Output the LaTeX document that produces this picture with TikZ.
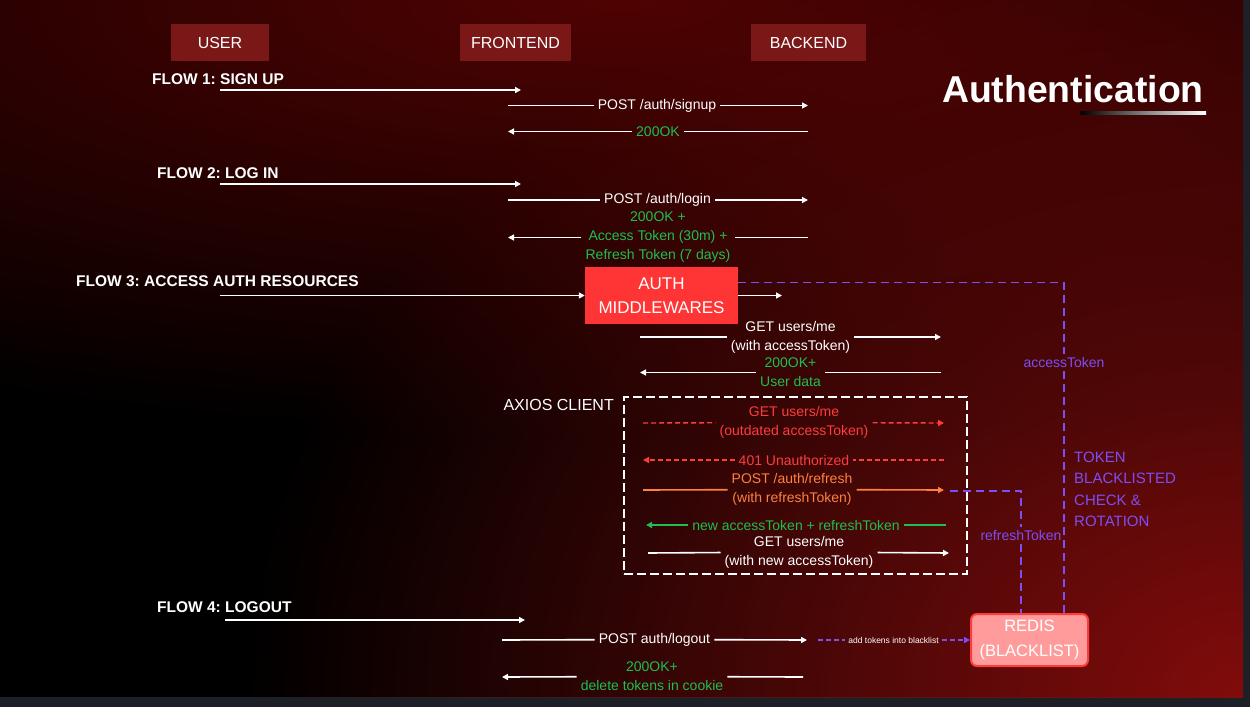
\documentclass[tikz,border=0pt]{standalone}
\usepackage{fontspec}
\setmainfont{Liberation Sans}
\frenchspacing
\usepackage{tikz}
\usetikzlibrary{arrows.meta}
\usetikzlibrary{fadings}
\usetikzlibrary{positioning, calc}
\definecolor{hdred}{RGB}{122,24,24}
\definecolor{mwred}{RGB}{255,52,52}
\definecolor{okgreen}{RGB}{30,190,80}
\definecolor{errred}{RGB}{255,60,60}
\definecolor{reforange}{RGB}{255,128,64}
\definecolor{tkpurple}{RGB}{124,78,246}
\definecolor{redisfill}{RGB}{255,155,155}
\definecolor{edgegray}{RGB}{29,33,39}
\definecolor{glowtop}{RGB}{80,3,3}
\definecolor{glowbot}{RGB}{130,12,12}
\tikzfading[name=glow, inner color=transparent!0, outer color=transparent!100]
\tikzstyle{actor} = [fill=hdred,text=white,minimum width=98pt,minimum height=37pt,inner sep=0pt,font=\fontsize{16}{19}\selectfont]
\tikzstyle{flow} = [text=white,anchor=west,inner sep=0pt,font=\bfseries\fontsize{15.5}{18}\selectfont]
\tikzstyle{msg} = [text=white,align=center,inner sep=4pt,font=\fontsize{14}{19}\selectfont]
\tikzstyle{wire} = [white,line width=1.6pt]
\tikzstyle{connector} = [wire,-{Triangle[length=6pt,width=6pt]}]
\tikzstyle{late} = [errred,line width=1.4pt,dash pattern=on 5pt off 3pt]
\tikzstyle{token} = [tkpurple,line width=1.6pt,dash pattern=on 8pt off 5pt]

\begin{document}
\begin{tikzpicture}[x=1pt,y=-1pt]
	% background
	\fill[edgegray] (0,0) rectangle (1250,707);
	\begin{scope}
		\clip (0,0) rectangle (1243,697);
		\fill[black] (0,0) rectangle (1243,697);
		\fill[glowtop, path fading=glow] (620,0) ellipse [x radius=1400pt, y radius=440pt];
		\fill[glowbot, path fading=glow] (1243,697) ellipse [x radius=1000pt, y radius=800pt];
	\end{scope}

	\node[actor] (user) at (220,42.5) {USER};
	\node[actor, minimum width=111pt] (front) at (515.5,42.5) {FRONTEND};
	\node[actor, minimum width=115pt] (back) at (808.5,42.5) {BACKEND};

	\node[text=white,inner sep=0pt,anchor=base east,font=\bfseries\fontsize{37.4}{40}\selectfont] (title) at (1204,102) {Authentication};
	\shade[left color=black,right color=white] (1080,111.5) rectangle (1206,114.5);

	% flow 1
	\node[flow] (f1) at (152,79) {FLOW 1: SIGN UP};
	\coordinate (f1s) at (220,90);
	\coordinate (f1e) at (521,90);
	\draw[connector] (f1s) -- (f1e);

	\coordinate (su1) at (508,105.5);
	\coordinate (su2) at (808,105.5);
	\node[msg] (signup) at (657,105.5) {POST /auth/signup};
	\draw[wire] (su1) -- (signup);
	\draw[connector] (signup) -- (su2);

	\coordinate (ok1a) at (808,131.5);
	\coordinate (ok1b) at (508,131.5);
	\node[msg, text=okgreen] (ok1) at (658,131.5) {200OK};
	\draw[wire] (ok1a) -- (ok1);
	\draw[connector] (ok1) -- (ok1b);

	% flow 2
	\node[flow] (f2) at (157,173) {FLOW 2: LOG IN};
	\coordinate (f2s) at (220,184);
	\coordinate (f2e) at (521,184);
	\draw[connector] (f2s) -- (f2e);

	\coordinate (li1) at (508,200);
	\coordinate (li2) at (808,200);
	\node[msg] (login) at (657.5,200) {POST /auth/login};
	\draw[wire] (li1) -- (login);
	\draw[connector] (login) -- (li2);

	\coordinate (ok2a) at (808,237.5);
	\coordinate (ok2b) at (508,237.5);
	\node[msg, text=okgreen] (ok2) at (658,237.5) {200OK +\\Access Token (30m) +\\Refresh Token (7 days)};
	\draw[wire] (ok2a) -- (ok2);
	\draw[connector] (ok2) -- (ok2b);

	% flow 3
	\node[flow] (f3) at (76,281) {FLOW 3: ACCESS AUTH RESOURCES};
	\node[fill=mwred,text=white,align=center,minimum width=153pt,minimum height=57pt,font=\fontsize{17}{24}\selectfont] (auth) at (661.5,295.5) {AUTH\\MIDDLEWARES};
	\coordinate (f3s) at (220,295.5);
	\coordinate (f3e) at (782,295.5);
	\draw[connector] (f3s) -- (auth);
	\draw[connector] (auth) -- (f3e);

	\coordinate (me1) at (640,337);
	\coordinate (me2) at (941,337);
	\node[msg] (me) at (790.5,337) {GET users/me\\(with accessToken)};
	\draw[wire] (me1) -- (me);
	\draw[connector] (me) -- (me2);

	\coordinate (ud1) at (941,372.5);
	\coordinate (ud2) at (640,372.5);
	\node[msg, text=okgreen] (udata) at (790.5,372.5) {200OK+\\User data};
	\draw[wire] (ud1) -- (udata);
	\draw[connector] (udata) -- (ud2);

	% axios client
	\node[draw=white,line width=1.6pt,dash pattern=on 9pt off 4pt,minimum width=343pt,minimum height=177pt] (axios) at (795.5,485.5) {};
	\node[text=white,inner sep=0pt,anchor=east,font=\fontsize{16}{19}\selectfont] (axlbl) at (614,405) {AXIOS CLIENT};

	\coordinate (od1) at (643,423);
	\coordinate (od2) at (944,423);
	\node[msg, text=errred] (old) at (794,422.5) {GET users/me\\(outdated accessToken)};
	\draw[late] (od1) -- (old);
	\draw[late, -{Triangle[length=6pt,width=6pt]}] (old) -- (od2);

	\coordinate (un1) at (944,460);
	\coordinate (un2) at (643,460);
	\node[msg, text=errred] (deny) at (794,460) {401 Unauthorized};
	\draw[late] (un1) -- (deny);
	\draw[late, -{Triangle[length=6pt,width=6pt]}] (deny) -- (un2);

	\coordinate (rf1) at (643,490);
	\coordinate (rf2) at (944,490);
	\node[msg, text=reforange] (refresh) at (792,489.5) {POST /auth/refresh\\(with refreshToken)};
	\draw[wire, reforange] (rf1) -- (refresh);
	\draw[connector, reforange] (refresh) -- (rf2);

	\coordinate (nt1) at (946,525);
	\coordinate (nt2) at (646,525);
	\node[msg, text=okgreen] (newtok) at (796,525) {new accessToken + refreshToken};
	\draw[wire, okgreen] (nt1) -- (newtok);
	\draw[connector, okgreen] (newtok) -- (nt2);

	\coordinate (ag1) at (648,553);
	\coordinate (ag2) at (949,553);
	\node[msg] (again) at (799,552) {GET users/me\\(with new accessToken)};
	\draw[wire] (ag1) -- (again);
	\draw[connector] (again) -- (ag2);

	% flow 4
	\node[flow] (f4) at (157,607) {FLOW 4: LOGOUT};
	\coordinate (f4s) at (225,620);
	\coordinate (f4e) at (525,620);
	\draw[connector] (f4s) -- (f4e);

	\node[draw=errred,line width=2pt,fill=redisfill,rounded corners=6pt,text=white,align=center,minimum width=117pt,minimum height=52pt,font=\fontsize{16.5}{25}\selectfont] (redis) at (1029.5,640) {REDIS\\(BLACKLIST)};

	\coordinate (lo1) at (502,640);
	\coordinate (lo2) at (807,640);
	\node[msg] (logout) at (654.5,639.5) {POST auth/logout};
	\draw[wire] (lo1) -- (logout);
	\draw[connector] (logout) -- (lo2);

	\coordinate (blk) at (818,640);
	\node[text=white,inner sep=3pt,font=\fontsize{8.5}{10}\selectfont] (addlbl) at (893.5,640) {add tokens into blacklist};
	\draw[token, dash pattern=on 5pt off 3pt] (blk) -- (addlbl);
	\draw[token, dash pattern=on 5pt off 3pt, -{Triangle[length=6pt,width=6pt]}] (addlbl) -- (redis);

	\coordinate (by1) at (803,677);
	\coordinate (by2) at (502,677);
	\node[msg, text=okgreen] (bye) at (652,676.5) {200OK+\\delete tokens in cookie};
	\draw[wire] (by1) -- (bye);
	\draw[connector] (bye) -- (by2);

	% token checks
	\coordinate (atk) at (1064,282.5);
	\node[msg, text=tkpurple, inner sep=3pt] (atklbl) at (1064,362.5) {accessToken};
	\draw[token] (auth.east |- atk) -- (atk) -- (atklbl);
	\draw[token] (atklbl) -- (atk |- redis.north);

	\coordinate (rt0) at (950,491);
	\coordinate (rtk) at (1021,491);
	\node[msg, text=tkpurple, inner sep=3pt] (rtklbl) at (1021,535.5) {refreshToken};
	\draw[token] (rt0) -- (rtk) -- (rtklbl);
	\draw[token] (rtklbl) -- (rtk |- redis.north);

	\node[text=tkpurple,align=left,anchor=north west,inner sep=0pt,font=\fontsize{15}{21.3}\selectfont] (rot) at (1074,452) {TOKEN\\BLACKLISTED\\CHECK \&\\ROTATION};

\end{tikzpicture}
\end{document}
